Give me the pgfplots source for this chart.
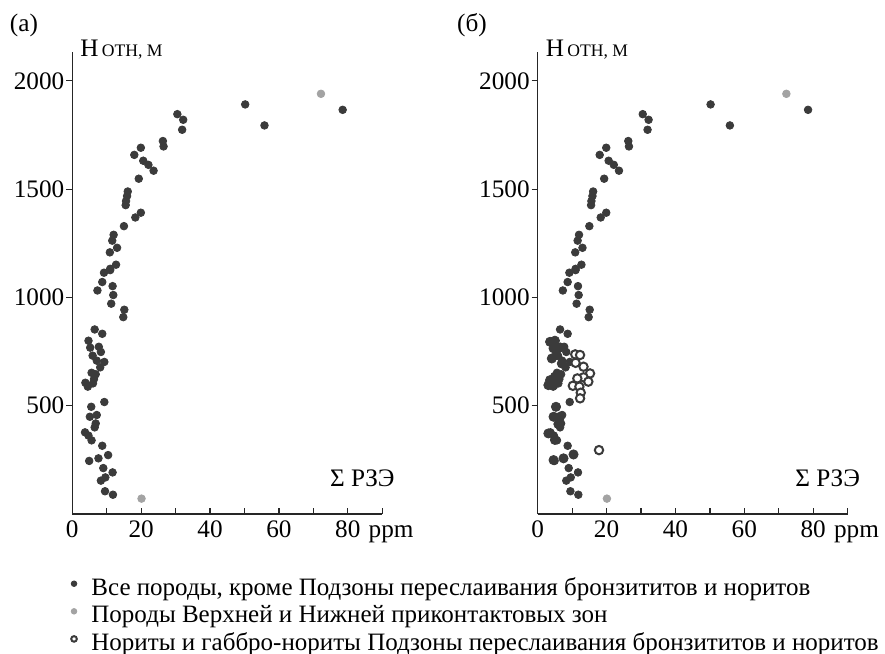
\documentclass[border=0pt]{standalone}
\usepackage{fontspec}
\setmainfont{Liberation Serif}
\usepackage{pgfplots}
\pgfplotsset{compat=1.18}

\definecolor{dots}{HTML}{3B3B3B}
\definecolor{greydots}{HTML}{A3A3A3}

\newcommand\tickfont{\rmfamily\fontsize{12.6}{14}\selectfont}
\newcommand\legfont{\rmfamily\fontsize{12.5}{14}\selectfont}
\newcommand\hlabel{{\tickfont H}\,{\fontsize{8.8}{9}\selectfont ОТН, М}}

% black dots, both panels
\pgfplotstableread{
x y
30.5 1846
32.2 1820
31.9 1774
50.2 1891
78.5 1866
55.8 1794
26.3 1722
26.5 1697
19.9 1691
18.0 1658
20.6 1631
22.1 1612
23.6 1585
19.3 1548
16.1 1489
15.9 1468
15.6 1445
15.5 1426
19.9 1391
18.3 1369
15.0 1329
12.0 1289
11.6 1262
13.0 1229
10.9 1208
12.7 1151
11.0 1132
9.2 1114
11.0 1126
8.7 1071
7.3 1032
11.7 1052
11.9 1011
11.3 971
15.1 943
14.8 909
6.5 852
8.7 832
4.7 800
5.2 768
7.7 772
8.3 748
5.9 731
9.3 702
7.1 708
8.1 677
5.6 652
3.8 606
4.5 588
6.3 623
6.8 645
6.0 603
9.3 517
5.5 495
5.1 449
7.1 457
6.8 418
6.5 400
3.7 377
4.7 362
5.6 340
8.7 315
10.4 272
4.9 245
7.6 257
9.0 212
11.7 192
8.3 154
9.6 169
9.5 105
11.8 89
}\allrocks

% extra / larger black dots in panel (b)
\pgfplotstableread{
x y
3.6 795
5.0 800
4.6 765
6.5 769
4.1 718
5.5 734
7.0 695
3.6 618
5.0 634
4.6 595
3.1 595
5.3 495
4.6 449
6.5 449
6.0 415
3.1 372
5.0 342
4.6 249
10.4 275
7.5 257
}\extrab

\pgfplotstableread{
x y
72.2 1940
20.1 71
}\contact

\pgfplotstableread{
x y
10.9 737
12.3 734
11.0 698
13.3 680
15.2 649
13.3 631
14.7 611
11.5 626
10.2 592
12.1 588
12.5 560
12.3 534
17.8 295
}\norites

\pgfplotsset{
  panel/.style={
    scale only axis, width=155pt, height=231pt,
    xmin=0, xmax=90, ymin=0, ymax=2133,
    axis x line*=bottom, axis y line*=left,
    axis line style={line width=0.6pt, black!85},
    xtick={0,20,40,60,80}, minor xtick={10,30,50,70,90},
    ytick={500,1000,1500,2000},
    xtick align=inside, ytick align=outside,
    major tick length=3pt, minor tick length=3pt,
    tick style={line width=0.6pt, black!85},
    ticklabel style={font=\tickfont},
    yticklabel style={xshift=2.5pt},
    /pgf/number format/assume math mode=true,
    /pgf/number format/1000 sep={},
    clip=false,
  },
  blk/.style={only marks, mark=*, mark size=1.9pt, color=dots},
  gry/.style={only marks, mark=*, mark size=1.9pt, color=greydots},
}

\begin{document}
\begin{tikzpicture}
\useasboundingbox (-36.15pt,-70pt) rectangle (406.35pt,257pt);

\begin{axis}[panel, at={(0pt,0pt)}, anchor=south west]
  \addplot[blk] table {\allrocks};
  \addplot[gry] table {\contact};
  \node[font=\tickfont] at (rel axis cs:-0.156,1.058) {(а)};
  \node[anchor=base west, inner sep=0pt] at (rel axis cs:0.025,0.991) {\hlabel};
  \node[anchor=base east, inner sep=0pt, font=\tickfont] at (rel axis cs:1.041,0.0606) {Σ РЗЭ};
  \node[anchor=base west, inner sep=0pt, font=\tickfont] at (rel axis cs:0.955,-0.0498) {ppm};
\end{axis}

\begin{axis}[panel, at={(232.7pt,0pt)}, anchor=south west,
    legend style={at={(-1.5074,-0.1362)}, anchor=north west, draw=none, fill=none,
      inner sep=0pt, font=\legfont, row sep=1.8pt,
      nodes={inner sep=0pt, text height=9pt, text depth=3pt}},
    legend cell align=left,
    legend image code/.code={
      \path (-1.4pt,0pt) (8.5pt,0pt);
      \draw[#1, mark size=1.4pt] plot coordinates {(0pt,2.8pt)};
    }]
  \addplot[blk] table {\allrocks};
  \addlegendentry{Все породы, кроме Подзоны переслаивания бронзититов и норитов}
  \addplot[gry] table {\contact};
  \addlegendentry{Породы Верхней и Нижней приконтактовых зон}
  \addplot[only marks, mark=*, mark size=2.3pt, color=dots, forget plot] table {\extrab};
  \addplot[only marks, mark=*, mark size=2.1pt, mark options={draw=dots, fill=white, line width=1pt}] table {\norites};
  \addlegendentry{Нориты и габбро-нориты Подзоны переслаивания бронзититов и норитов}
  \node[font=\tickfont] at (rel axis cs:-0.212,1.058) {(б)};
  \node[anchor=base west, inner sep=0pt] at (rel axis cs:0.025,0.991) {\hlabel};
  \node[anchor=base east, inner sep=0pt, font=\tickfont] at (rel axis cs:1.041,0.0606) {Σ РЗЭ};
  \node[anchor=base west, inner sep=0pt, font=\tickfont] at (rel axis cs:0.955,-0.0498) {ppm};
\end{axis}
\end{tikzpicture}
\end{document}
